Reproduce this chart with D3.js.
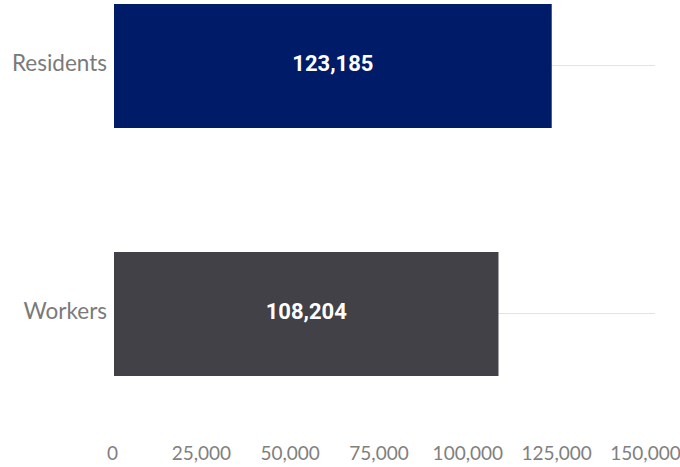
<!DOCTYPE html>
<html>
<head>
<meta charset="utf-8">
<script src="https://cdn.jsdelivr.net/npm/d3@7"></script>
<style>
  html, body { margin: 0; padding: 0; background: #fff; }
  svg { display: block; }
</style>
</head>
<body>
<svg id="chart" width="680" height="467"></svg>
<script>
// Population counts by group
const categories = ["Residents", "Workers"];
const values = [123185, 108204];
const barColors = ["#001b68", "#434148"];
const tickValues = [0, 25000, 50000, 75000, 100000, 125000, 150000];

const svg = d3.select("#chart");
const fmt = d3.format(",");

const x = d3.scaleLinear().domain([0, 150000]).range([114, 647]);
const y = d3.scaleBand().domain(categories).range([4, 376])
  .paddingInner(0.5).paddingOuter(0);

// light guide line through the middle of each row
svg.append("g").selectAll("line")
  .data(categories)
  .join("line")
  .attr("x1", x(0))
  .attr("x2", 655)
  .attr("y1", d => y(d) + y.bandwidth() / 2 - 0.5)
  .attr("y2", d => y(d) + y.bandwidth() / 2 - 0.5)
  .attr("stroke", "#e2e2e2")
  .attr("stroke-width", 1);

// bars
svg.append("g").selectAll("rect")
  .data(categories)
  .join("rect")
  .attr("x", x(0))
  .attr("y", d => y(d))
  .attr("width", (d, i) => x(values[i]) - x(0))
  .attr("height", y.bandwidth())
  .attr("fill", (d, i) => barColors[i]);

// value labels inside the bars
svg.append("g").selectAll("text")
  .data(categories)
  .join("text")
  .attr("x", (d, i) => (x(0) + x(values[i])) / 2)
  .attr("y", d => y(d) + y.bandwidth() / 2 - 2.5)
  .attr("dy", "0.35em")
  .attr("text-anchor", "middle")
  .attr("fill", "#fff")
  .attr("font-family", "Roboto, 'Liberation Sans', sans-serif")
  .attr("font-weight", "bold")
  .attr("font-size", 22)
  .text((d, i) => fmt(values[i]));

// category labels
const yAxis = d3.axisLeft(y).tickSize(0).tickPadding(7);
svg.append("g")
  .attr("transform", `translate(${x(0)},-2.5)`)
  .call(yAxis)
  .call(g => g.select(".domain").remove())
  .call(g => g.selectAll("text")
    .attr("fill", "#7a7a7a")
    .attr("font-family", "Lato, 'Open Sans', sans-serif")
    .attr("font-size", 22.5));

// value axis
const xAxis = d3.axisBottom(x).tickValues(tickValues).tickFormat(fmt).tickSize(0).tickPadding(0);
svg.append("g")
  .attr("transform", "translate(-2,446)")
  .call(xAxis)
  .call(g => g.select(".domain").remove())
  .call(g => g.selectAll("text")
    .attr("fill", "#808080")
    .attr("font-family", "Lato, 'Open Sans', sans-serif")
    .attr("font-size", 19));
</script>
</body>
</html>
